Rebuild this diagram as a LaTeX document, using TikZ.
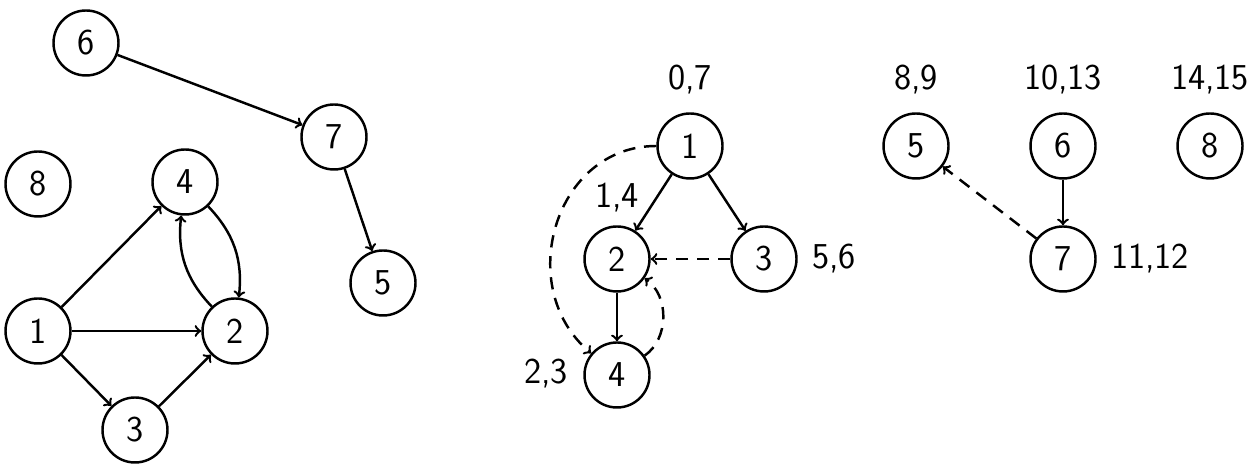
\documentclass[tikz,border=0pt]{standalone}
\usepackage{tikz}

\tikzset{
  vert/.style={draw, circle, line width=1.4pt, minimum size=1.3cm, inner sep=0pt, font=\sffamily\huge},
  stamp/.style={font=\sffamily\huge, inner sep=0pt},
  tree/.style={->, line width=1.4pt},
  back/.style={->, line width=1.4pt, dashed, dash pattern=on 7pt off 5pt}
}

\begin{document}
\begin{tikzpicture}
\useasboundingbox (0,0) rectangle (25.06,9.28);

% Input graph
\node[vert] (g6) at (1.72, 8.42) {6};
\node[vert] (g7) at (6.68, 6.54) {7};
\node[vert] (g5) at (7.66, 3.62) {5};
\node[vert] (g8) at (0.76, 5.60) {8};
\node[vert] (g4) at (3.70, 5.64) {4};
\node[vert] (g1) at (0.76, 2.66) {1};
\node[vert] (g2) at (4.70, 2.66) {2};
\node[vert] (g3) at (2.70, 0.68) {3};

\draw[tree] (g6) -- (g7);
\draw[tree] (g7) -- (g5);
\draw[tree] (g1) -- (g4);
\draw[tree] (g1) -- (g2);
\draw[tree] (g1) -- (g3);
\draw[tree] (g3) -- (g2);
\draw[tree] (g4) to[bend left=25] (g2);
\draw[tree] (g2) to[bend left=25] (g4);

% DFS tree rooted at 1
\node[vert] (a1) at (13.80, 6.36) {1};
\node[vert] (a2) at (12.34, 4.10) {2};
\node[vert] (a3) at (15.28, 4.10) {3};
\node[vert] (a4) at (12.34, 1.78) {4};
\node[stamp] (t1) at (13.80, 7.68) {0,7};
\node[stamp] (t2) at (12.34, 5.32) {1,4};
\node[stamp] (t3) at (16.68, 4.10) {5,6};
\node[stamp] (t4) at (10.92, 1.80) {2,3};

\draw[tree] (a1) -- (a2);
\draw[tree] (a1) -- (a3);
\draw[tree] (a2) -- (a4);
\draw[back] (a3) -- (a2);
\draw[back] (a1.west) to[out=180, in=140, looseness=1.2] (a4);
\draw[back] (a4) to[bend right=55] (a2);

% DFS trees rooted at 5, 6, 8
\node[vert] (b5) at (18.32, 6.36) {5};
\node[vert] (b6) at (21.26, 6.36) {6};
\node[vert] (b8) at (24.20, 6.36) {8};
\node[vert] (b7) at (21.26, 4.10) {7};
\node[stamp] (s5) at (18.32, 7.68) {8,9};
\node[stamp] (s6) at (21.26, 7.68) {10,13};
\node[stamp] (s8) at (24.20, 7.68) {14,15};
\node[stamp] (s7) at (23.00, 4.10) {11,12};

\draw[tree] (b6) -- (b7);
\draw[back] (b7) -- (b5);

\end{tikzpicture}
\end{document}
